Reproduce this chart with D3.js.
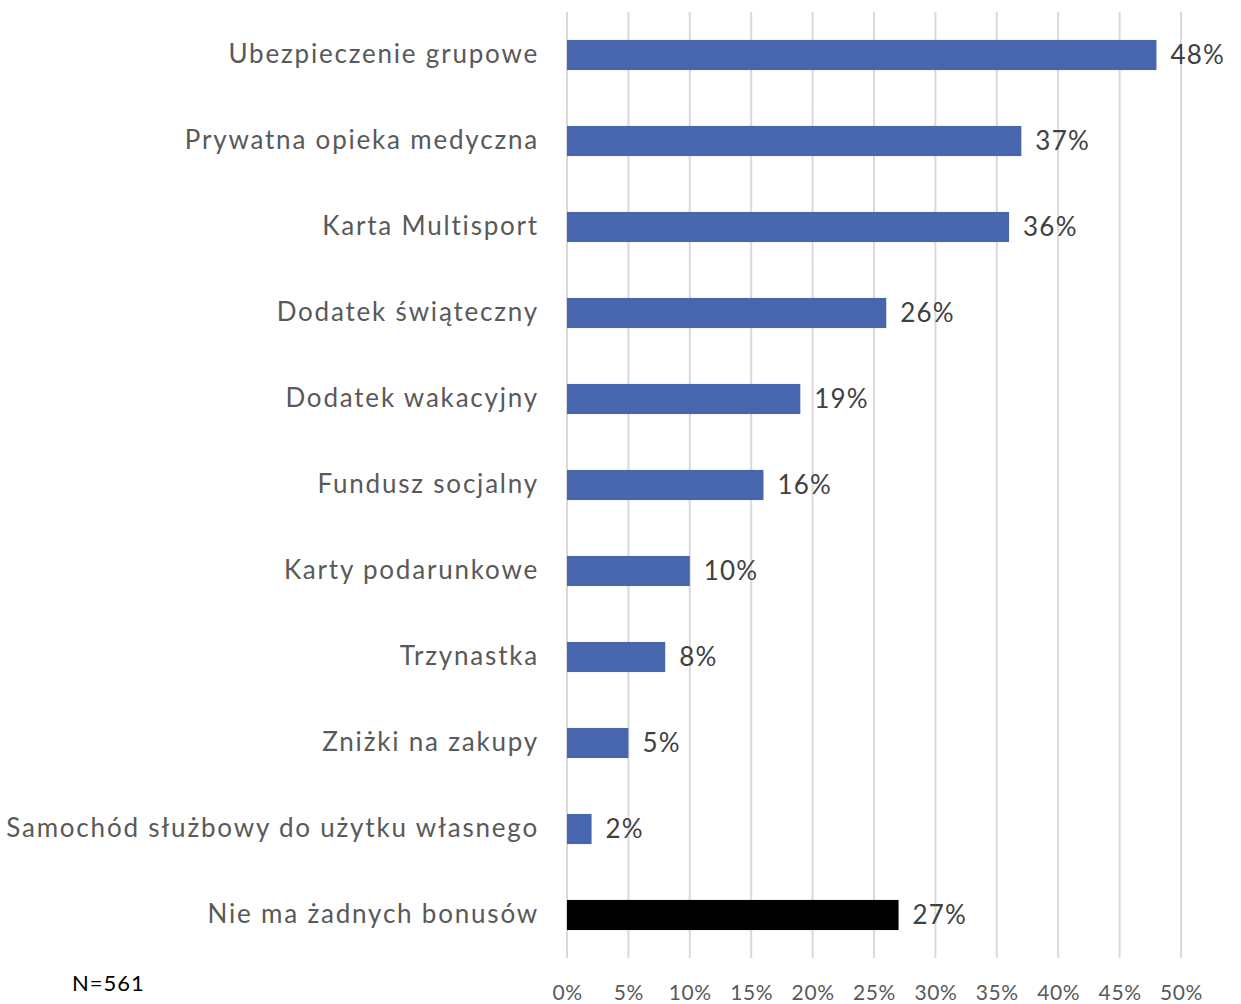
<!DOCTYPE html>
<html>
<head>
<meta charset="utf-8">
<script src="https://cdn.jsdelivr.net/npm/d3@7"></script>
<style>
  body { margin: 0; background: #fff; }
  text { font-family: Lato, "Open Sans", sans-serif; }
</style>
</head>
<body>
<div id="chart"></div>
<script>
// Data
var categories = [
    "Ubezpieczenie grupowe",
    "Prywatna opieka medyczna",
    "Karta Multisport",
    "Dodatek świąteczny",
    "Dodatek wakacyjny",
    "Fundusz socjalny",
    "Karty podarunkowe",
    "Trzynastka",
    "Zniżki na zakupy",
    "Samochód służbowy do użytku własnego",
    "Nie ma żadnych bonusów"
];
var values = [48, 37, 36, 26, 19, 16, 10, 8, 5, 2, 27];
var xTicks = [0, 5, 10, 15, 20, 25, 30, 35, 40, 45, 50];
var note = "N=561";

var width = 1241, height = 1004;
var margin = { top: 12, right: 60, bottom: 46, left: 567 };
var innerW = width - margin.left - margin.right,
    innerH = height - margin.top - margin.bottom;

var svg = d3.select("#chart").append("svg")
    .attr("width", width)
    .attr("height", height);

var g = svg.append("g")
    .attr("transform", "translate(" + margin.left + "," + margin.top + ")");

var x = d3.scaleLinear()
    .domain([0, 50])
    .range([0, 614]);

var y = d3.scaleBand()
    .domain(categories)
    .range([0, innerH])
    .paddingInner(0.65)
    .paddingOuter(0.325);

// gridlines
g.selectAll(".grid")
    .data(xTicks)
    .enter().append("line")
    .attr("class", "grid")
    .attr("x1", function(d) { return x(d); })
    .attr("x2", function(d) { return x(d); })
    .attr("y1", 0)
    .attr("y2", innerH)
    .attr("stroke", "#d9d9d9")
    .attr("stroke-width", 2);

// x axis labels
var xAxis = d3.axisBottom(x)
    .tickValues(xTicks)
    .tickSize(0)
    .tickPadding(27)
    .tickFormat(function(d) { return d + "%"; });

var xg = g.append("g")
    .attr("transform", "translate(0," + innerH + ")")
    .call(xAxis);
xg.select(".domain").remove();
xg.selectAll("text")
    .style("font-size", "21px")
    .style("font-family", "Lato, sans-serif")
    .style("letter-spacing", "0.6px")
    .attr("fill", "#595959");

// y axis labels
var yAxis = d3.axisLeft(y)
    .tickSize(0)
    .tickPadding(28);
var yg = g.append("g").call(yAxis);
yg.select(".domain").remove();
yg.selectAll("text")
    .style("font-size", "26px")
    .style("font-family", "Lato, sans-serif")
    .style("letter-spacing", "1.8px")
    .attr("fill", "#595959");

// bars
g.selectAll(".bar")
    .data(values)
    .enter().append("rect")
    .attr("class", "bar")
    .attr("x", x(0))
    .attr("y", function(d, i) { return y(categories[i]); })
    .attr("width", function(d) { return x(d) - x(0); })
    .attr("height", y.bandwidth())
    .attr("fill", function(d, i) { return i === categories.length - 1 ? "#000000" : "#4766ad"; });

// value labels
g.selectAll(".val")
    .data(values)
    .enter().append("text")
    .attr("class", "val")
    .attr("x", function(d) { return x(d) + 14; })
    .attr("y", function(d, i) { return y(categories[i]) + y.bandwidth() / 2; })
    .attr("dy", "0.35em")
    .style("font-size", "26px")
    .style("letter-spacing", "1.2px")
    .attr("fill", "#404040")
    .text(function(d) { return d + "%"; });

// note
svg.append("text")
    .attr("x", 72)
    .attr("y", 991)
    .style("font-size", "22px")
    .style("letter-spacing", "1px")
    .style("font-family", "Lato, sans-serif")
    .attr("fill", "#000")
    .text(note);
</script>
</body>
</html>
